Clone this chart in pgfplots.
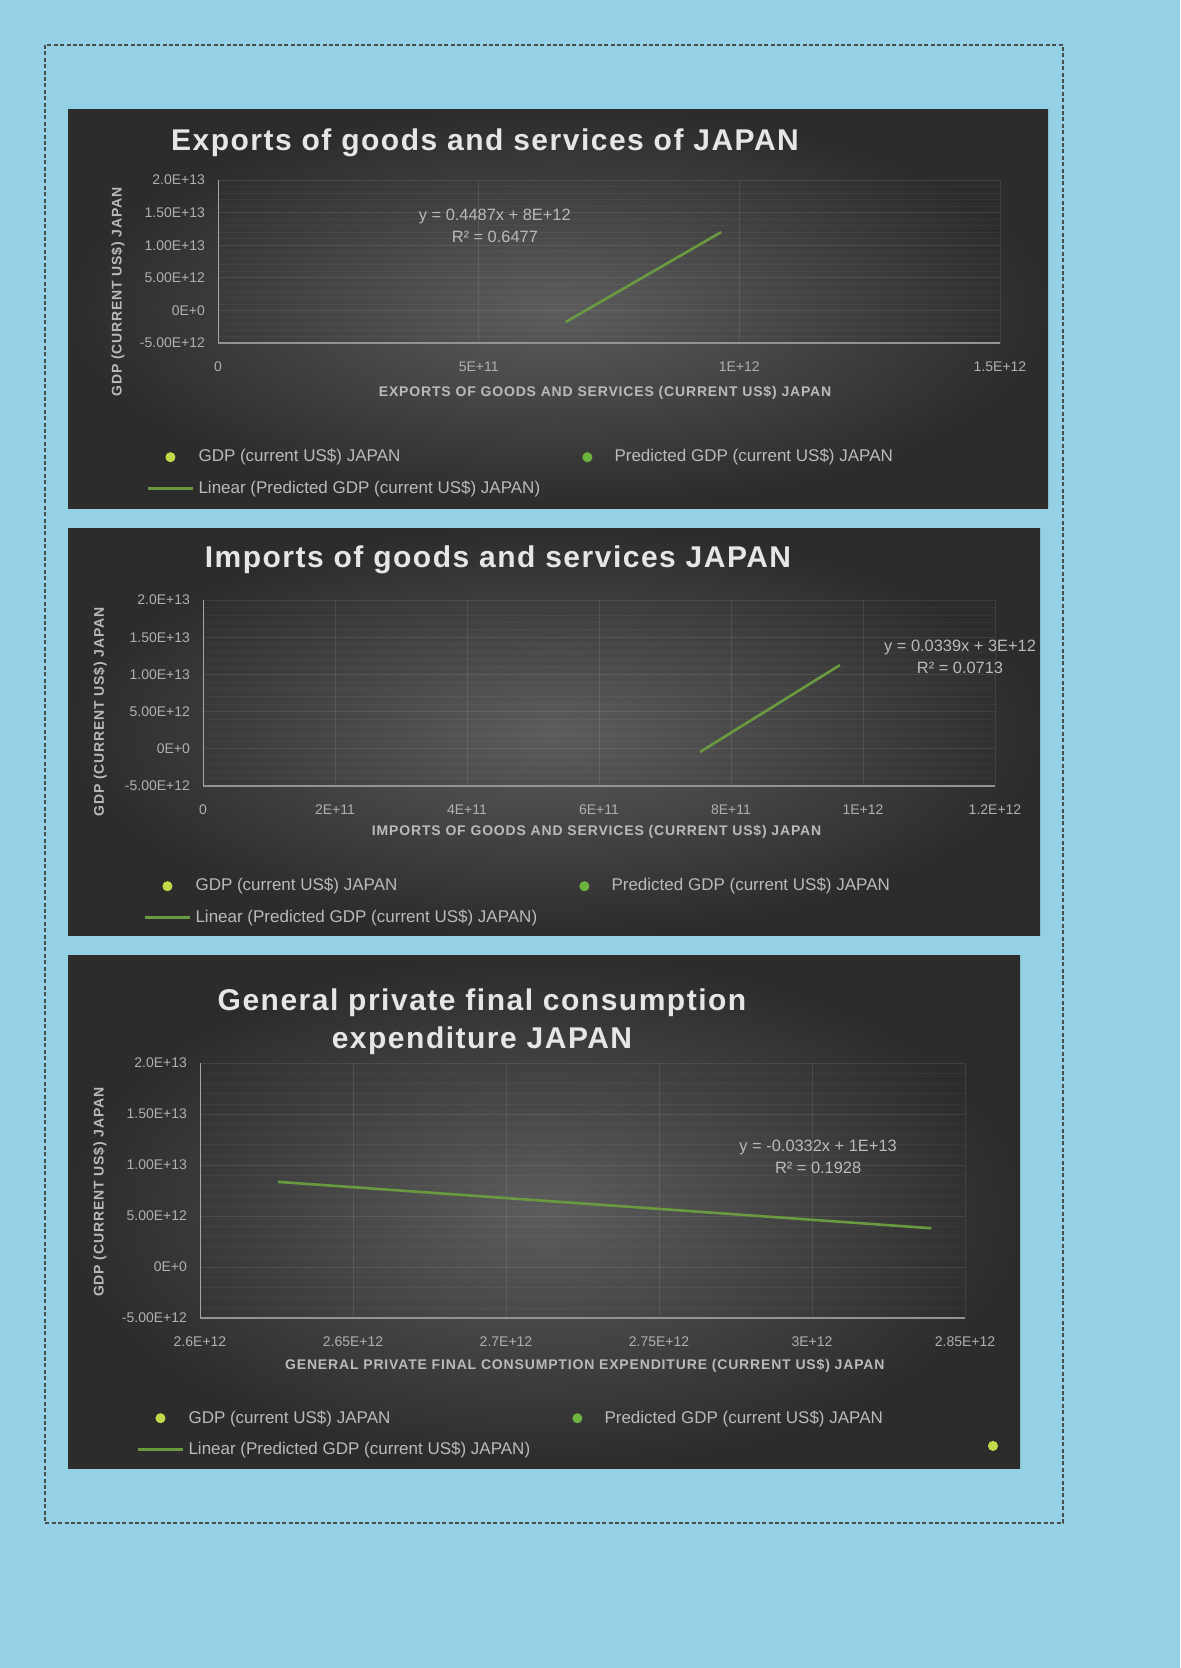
\documentclass[border=0pt]{standalone}
\usepackage{pgfplots}
\pgfplotsset{compat=1.18}
\usepackage{fontspec}
\setmainfont{Liberation Sans}
\definecolor{bgblue}{HTML}{94D1E4}
\definecolor{panelin}{HTML}{5C5C5C}
\definecolor{panelout}{HTML}{2C2C2C}
\definecolor{trend}{HTML}{6A9A40}
\definecolor{mkA}{HTML}{C4D94A}
\definecolor{mkB}{HTML}{6DB33F}
\definecolor{titlec}{HTML}{E6E6E6}
\definecolor{tickc}{HTML}{B0B0B0}
\definecolor{legc}{HTML}{BABABA}
\newcommand{\titlefont}{\bfseries\fontsize{15}{19}\selectfont\addfontfeatures{LetterSpace=5}}
\pgfplotsset{
  panel/.style={
    scale only axis, clip=false, scaled ticks=false,
    axis x line*=bottom, axis y line*=left,
    axis line style={-, draw=gray!70, line width=0.5pt},
    x axis line style={draw=gray!85, line width=0.9pt},
    major tick length=0pt, minor tick length=0pt,
    grid=both, minor y tick num=4,
    major grid style={white, opacity=0.09, line width=0.4pt},
    minor grid style={white, opacity=0.045, line width=0.3pt},
    ymin=-5e12, ymax=2e13,
    ytick={-5e12,0,5e12,1e13,1.5e13,2e13},
    yticklabels={-5.00E+12,0E+0,5.00E+12,1.00E+13,1.50E+13,2.0E+13},
    tick label style={font=\fontsize{7}{8}\selectfont, text=tickc},
    xticklabel style={yshift=-6pt},
    yticklabel style={xshift=-3pt},
    label style={font=\bfseries\fontsize{7}{8}\selectfont\addfontfeatures{LetterSpace=6}, text=legc},
    legend cell align=left,
    legend style={draw=none, fill=none, inner sep=0pt,
      font=\fontsize{8.5}{10}\selectfont, text=legc,
      legend columns=2, row sep=4pt,
      /tikz/every even column/.append style={column sep=10pt},
      at={(axis description cs:0,0)}, anchor=north west},
    legend image code/.code={\draw[#1] plot coordinates {(0cm,0cm)(0.4cm,0cm)(0.8cm,0cm)};},
  },
  mark1/.style={only marks, mark=*, mark size=2.3pt, color=mkA,
     legend image code/.code={\path (0cm,0cm) (0.8cm,0cm);\draw[#1] plot coordinates {(0.4cm,0cm)};}},
  mark2/.style={only marks, mark=*, mark size=2.3pt, color=mkB,
     legend image code/.code={\path (0cm,0cm) (0.8cm,0cm);\draw[#1] plot coordinates {(0.4cm,0cm)};}},
  trendl/.style={trend, line width=1.3pt, no marks},
}
\begin{document}
\begin{tikzpicture}[x=0.5pt,y=-0.5pt]
\fill[bgblue] (0,0) rectangle (1180,1668);
\draw[black!70, line width=0.9pt, dash pattern=on 2pt off 1.2pt] (45,45) rectangle (1063,1523);
\shade[inner color=panelin, outer color=panelout] (68,110) rectangle (1048,508);
\shade[inner color=panelin, outer color=panelout] (68,528) rectangle (1040,935);
\shade[inner color=panelin, outer color=panelout] (68,955) rectangle (1020,1468);
\coordinate (A1) at (218,343);
\coordinate (A2) at (203,786);
\coordinate (A3) at (200,1318);
\coordinate (A4) at (988,1456);

% ---------- Chart 1
\node[font=\titlefont, text=titlec] at (485,143) {Exports of goods and services of JAPAN};
\begin{axis}[panel, at={(A1)}, anchor=south west, width=391pt, height=81.5pt,
  xmin=0, xmax=1.5e12, xtick={0,5e11,1e12,1.5e12},
  xticklabels={0,5E+11,1E+12,1.5E+12},
  xlabel={EXPORTS OF GOODS AND SERVICES (CURRENT US\$) JAPAN},
  xlabel style={at={(axis description cs:0.495,-0.307)}, anchor=center},
  ylabel={GDP (CURRENT US\$) JAPAN},
  ylabel style={at={(axis description cs:-0.128,0.313)}, anchor=center},
  legend style={xshift=-36pt, yshift=-51pt}]
\addlegendimage{mark1}\addlegendentry{GDP (current US\$) JAPAN}
\addlegendimage{mark2}\addlegendentry{Predicted GDP (current US\$) JAPAN}
\addplot[trendl] coordinates {(6.67e11,-1.78e12) (9.65e11,1.20e13)};
\addlegendentry{Linear (Predicted GDP (current US\$) JAPAN)}
\node[align=center, font=\fontsize{8.2}{11}\selectfont, text=legc] at (axis cs:5.31e11,1.294e13) {y = 0.4487x + 8E+12\\R² = 0.6477};
\end{axis}

% ---------- Chart 2
\node[font=\titlefont, text=titlec] at (498,560) {Imports of goods and services JAPAN};
\begin{axis}[panel, at={(A2)}, anchor=south west, width=396pt, height=93pt,
  xmin=0, xmax=1.2e12, xtick={0,2e11,4e11,6e11,8e11,1e12,1.2e12},
  xticklabels={0,2E+11,4E+11,6E+11,8E+11,1E+12,1.2E+12},
  xlabel={IMPORTS OF GOODS AND SERVICES (CURRENT US\$) JAPAN},
  xlabel style={at={(axis description cs:0.497,-0.247)}, anchor=center},
  ylabel={GDP (CURRENT US\$) JAPAN},
  ylabel style={at={(axis description cs:-0.130,0.398)}, anchor=center},
  legend style={xshift=-30pt, yshift=-44pt}]
\addlegendimage{mark1}\addlegendentry{GDP (current US\$) JAPAN}
\addlegendimage{mark2}\addlegendentry{Predicted GDP (current US\$) JAPAN}
\addplot[trendl] coordinates {(7.53e11,-0.43e12) (9.65e11,1.125e13)};
\addlegendentry{Linear (Predicted GDP (current US\$) JAPAN)}
\node[align=center, font=\fontsize{8.2}{11}\selectfont, text=legc] at (axis cs:1.147e12,1.234e13) {y = 0.0339x + 3E+12\\R² = 0.0713};
\end{axis}

% ---------- Chart 3
\node[align=center, font=\titlefont, text=titlec] at (482,1022) {General private final consumption\\expenditure JAPAN};
\begin{axis}[panel, at={(A3)}, anchor=south west, width=382.5pt, height=127.5pt,
  xmin=2.6e12, xmax=2.85e12, xtick={2.6e12,2.65e12,2.7e12,2.75e12,2.8e12,2.85e12},
  xticklabels={2.6E+12,2.65E+12,2.7E+12,2.75E+12,3E+12,2.85E+12},
  xlabel={GENERAL PRIVATE FINAL CONSUMPTION EXPENDITURE (CURRENT US\$) JAPAN},
  xlabel style={at={(axis description cs:0.503,-0.188)}, anchor=center},
  ylabel={GDP (CURRENT US\$) JAPAN},
  ylabel style={at={(axis description cs:-0.131,0.494)}, anchor=center},
  legend style={xshift=-32pt, yshift=-44pt}]
\addlegendimage{mark1}\addlegendentry{GDP (current US\$) JAPAN}
\addlegendimage{mark2}\addlegendentry{Predicted GDP (current US\$) JAPAN}
\addplot[trendl] coordinates {(2.6255e12,8.35e12) (2.839e12,3.80e12)};
\addlegendentry{Linear (Predicted GDP (current US\$) JAPAN)}
\node[align=center, font=\fontsize{8.2}{11}\selectfont, text=legc] at (axis cs:2.802e12,1.078e13) {y = -0.0332x + 1E+13\\R² = 0.1928};
\end{axis}
\begin{axis}[hide axis, scale only axis, at={(A4)}, anchor=south west, width=8pt, height=8pt,
  xmin=0, xmax=1, ymin=0, ymax=1,
  legend style={draw=none, fill=none, inner sep=0pt, at={(0,1)}, anchor=north west}]
\addlegendimage{only marks, mark=*, mark size=2.3pt, color=mkA}\addlegendentry{}
\end{axis}
\end{tikzpicture}
\end{document}
